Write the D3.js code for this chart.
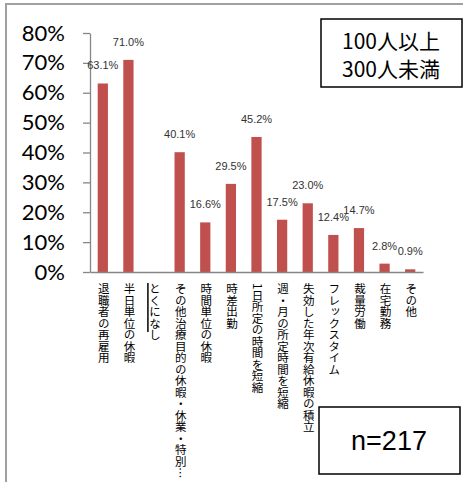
<!DOCTYPE html>
<meta charset="utf-8">
<script src="https://d3js.org/d3.v7.min.js"></script>
<style>
  body { margin: 0; background: #fff; }
</style>
<div id="chart"></div>
<script>
  // data
  const categories = ["退職者の再雇用", "半日単位の休暇", "とくになし", "その他治療目的の休暇・休業・特別…",
    "時間単位の休暇", "時差出勤", "1日所定の時間を短縮", "週・月の所定時間を短縮",
    "失効した年次有給休暇の積立", "フレックスタイム", "裁量労働", "在宅勤務", "その他"];
  const values = [63.1, 71.0, null, 40.1, 16.6, 29.5, 45.2, 17.5, 23.0, 12.4, 14.7, 2.8, 0.9];
  const yTicks = [0, 10, 20, 30, 40, 50, 60, 70, 80];
  const groupLines = ["100人以上", "300人未満"];
  const sampleLabel = "n=217";

  const W = 463, H = 482;
  const svg = d3.select("#chart").append("svg")
    .attr("width", W).attr("height", H);

  // outer frame (only left and top edges show)
  svg.append("rect")
    .attr("x", 6).attr("y", 4).attr("width", 520).attr("height", 520)
    .attr("fill", "none").attr("stroke", "#a0a0a0").attr("stroke-width", 2);

  const x = d3.scaleBand().domain(categories).range([90, 423]).paddingInner(0.6).paddingOuter(0.3);
  const y = d3.scaleLinear().domain([0, 80]).range([272, 33]);

  // y axis
  const yAxis = svg.append("g")
    .attr("transform", "translate(90,0)")
    .call(d3.axisLeft(y).tickValues(yTicks).tickSize(7).tickSizeOuter(0).tickPadding(18)
      .tickFormat(d => d + "%"));
  yAxis.selectAll("path, line").attr("stroke", "#868686").attr("stroke-width", 1.3);
  yAxis.selectAll("text").attr("font-family", "Lato, 'Liberation Sans', sans-serif")
    .attr("font-size", 22).attr("fill", "#000");

  // bars
  const data = categories.map((c, i) => ({ c, v: values[i] })).filter(d => d.v != null);
  svg.selectAll(".bar")
    .data(data)
    .join("rect")
    .attr("class", "bar")
    .attr("x", d => x(d.c))
    .attr("width", x.bandwidth())
    .attr("y", d => y(d.v))
    .attr("height", d => y(0) - y(d.v))
    .attr("fill", "#c0504d");

  // value labels
  svg.selectAll(".val")
    .data(data)
    .join("text")
    .attr("class", "val")
    .attr("x", d => x(d.c) + x.bandwidth() / 2)
    .attr("y", d => y(d.v) - 14)
    .attr("text-anchor", "middle")
    .attr("font-family", "'Liberation Sans', Arial, sans-serif")
    .attr("font-size", 11)
    .attr("fill", "#333")
    .text(d => d.v.toFixed(1) + "%");

  // x axis line
  const xAxis = svg.append("g")
    .attr("transform", "translate(0,272)")
    .call(d3.axisBottom(x).tickSize(0).tickFormat(""));
  xAxis.select(".domain").attr("stroke", "#868686").attr("stroke-width", 1.3);

  // vertical category labels
  svg.selectAll(".cat")
    .data(categories)
    .join("text")
    .attr("class", "cat")
    .attr("x", d => x(d) + x.bandwidth() / 2 + 1)
    .attr("y", 283)
    .style("writing-mode", "vertical-rl")
    .attr("font-family", "'Noto Sans CJK JP', sans-serif")
    .attr("font-size", 11.5)
    .attr("fill", "#000")
    .text(d => d);

  // stray caret mark beside "とくになし"
  svg.append("line")
    .attr("x1", x(categories[2]) - 1).attr("x2", x(categories[2]) - 1)
    .attr("y1", 283).attr("y2", 332)
    .attr("stroke", "#000").attr("stroke-width", 1.5);

  // group box
  svg.append("rect")
    .attr("x", 321).attr("y", 19).attr("width", 141).attr("height", 68)
    .attr("fill", "#fff").attr("stroke", "#000").attr("stroke-width", 1.5);
  svg.selectAll(".grp")
    .data(groupLines)
    .join("text")
    .attr("class", "grp")
    .attr("x", 391)
    .attr("y", (d, i) => 42 + i * 28)
    .attr("dy", "0.35em")
    .attr("text-anchor", "middle")
    .attr("font-family", "'Noto Sans CJK JP', sans-serif")
    .attr("font-size", 21)
    .text(d => d);

  // sample size box
  svg.append("rect")
    .attr("x", 319).attr("y", 407).attr("width", 141).attr("height", 67)
    .attr("fill", "#fff").attr("stroke", "#000").attr("stroke-width", 1.5);
  svg.append("text")
    .attr("x", 389).attr("y", 441)
    .attr("dy", "0.35em")
    .attr("text-anchor", "middle")
    .attr("font-family", "'Liberation Sans', Arial, sans-serif")
    .attr("font-size", 27)
    .text(sampleLabel);
</script>
